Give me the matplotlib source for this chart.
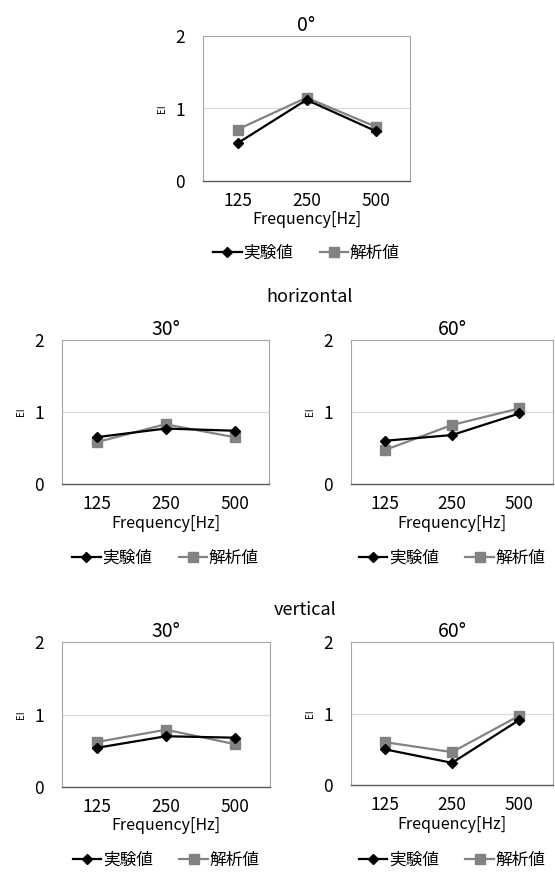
import matplotlib.pyplot as plt

plt.rcParams['font.family'] = ['Noto Sans CJK JP', 'DejaVu Sans']

freqs = ['125', '250', '500']
series_names = ['実験値', '解析値']

# EI values per panel: (measured, analysed)
ei_0 = ([0.52, 1.12, 0.69], [0.71, 1.15, 0.75])
ei_h30 = ([0.65, 0.77, 0.74], [0.58, 0.83, 0.65])
ei_h60 = ([0.60, 0.68, 0.98], [0.47, 0.82, 1.05])
ei_v30 = ([0.54, 0.70, 0.68], [0.62, 0.79, 0.59])
ei_v60 = ([0.50, 0.31, 0.91], [0.60, 0.46, 0.97])

W, H = 555, 872
fig = plt.figure(figsize=(W / 100, H / 100), dpi=100)


def panel(left, top, right, bottom, title, data, leg_y):
    ax = fig.add_axes([left / W, 1 - bottom / H, (right - left) / W, (bottom - top) / H])
    x = range(len(freqs))
    ax.plot(x, data[0], color='black', marker='D', markersize=5.5, lw=1.6,
            label=series_names[0], zorder=3)
    ax.plot(x, data[1], color='#828282', marker='s', markersize=7, lw=1.6,
            label=series_names[1], zorder=2)
    ax.set_xlim(-0.5, 2.5)
    ax.set_ylim(0, 2)
    ax.set_yticks([0, 1, 2])
    ax.set_xticks(list(x))
    ax.set_xticklabels(freqs)
    ax.axhline(1, color='#d9d9d9', lw=0.8, zorder=1)
    ax.tick_params(length=0, labelsize=12.5, pad=8)
    ax.tick_params(axis='y', pad=13)
    for s in ['top', 'right', 'left']:
        ax.spines[s].set_color('#a6a6a6')
        ax.spines[s].set_linewidth(0.8)
    ax.spines['bottom'].set_color('#595959')
    ax.spines['bottom'].set_linewidth(1.0)
    ax.set_title(title, fontsize=14, pad=2)
    ax.set_xlabel('Frequency[Hz]', fontsize=11.5, labelpad=1)
    ax.set_ylabel('EI', fontsize=7, labelpad=6)
    ax.legend(loc='center', bbox_to_anchor=((left + right) / 2 / W, 1 - leg_y / H),
              bbox_transform=fig.transFigure, ncol=2,
              frameon=False, fontsize=12, handlelength=1.7, columnspacing=1.6,
              handletextpad=0.1)
    return ax


panel(203, 36, 410, 181, '0°', ei_0, 253)
panel(62, 340, 269, 484, '30°', ei_h30, 558)
panel(351, 340, 553, 484, '60°', ei_h60, 558)
panel(62, 642, 270, 787, '30°', ei_v30, 860)
panel(351, 642, 553, 785, '60°', ei_v60, 860)

fig.text(310 / W, 1 - 297 / H, 'horizontal', ha='center', va='center', fontsize=13)
fig.text(305 / W, 1 - 610 / H, 'vertical', ha='center', va='center', fontsize=13)

fig.savefig('out.png', dpi=100)
